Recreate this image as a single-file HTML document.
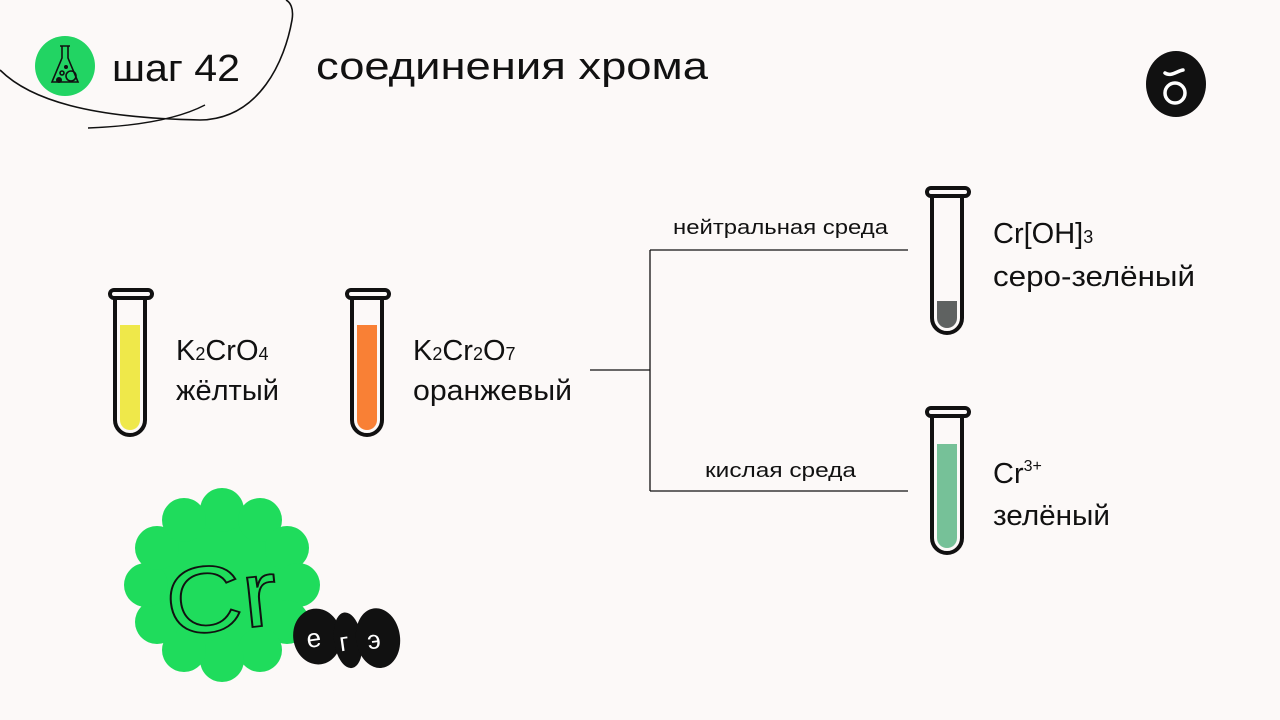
<!DOCTYPE html>
<html><head><meta charset="utf-8"><style>
html,body{margin:0;padding:0;background:#fcf9f8;}
svg{display:block}
text{font-family:"Liberation Sans","DejaVu Sans",sans-serif;fill:#111}
</style></head><body>
<svg width="1280" height="720" viewBox="0 0 1280 720" xmlns="http://www.w3.org/2000/svg">
<rect width="1280" height="720" fill="#fcf9f8"/>
<path d="M0,70 C30,100 90,118 200,120 C260,119 285,60 292,20 C294,8 290,2 286,0" fill="none" stroke="#111" stroke-width="1.6"/>
<path d="M88,128 C140,126 180,118 205,105" fill="none" stroke="#111" stroke-width="1.4"/>
<circle cx="65" cy="66" r="30" fill="#22d463"/>
<g fill="none" stroke="#111" stroke-width="1.6">
<path d="M60,46 h10 M62,46 v12 l-10,24 h26 l-10,-24 v-12"/>
<circle cx="71" cy="76" r="5"/><circle cx="62" cy="73" r="2"/>
</g>
<circle cx="59" cy="80" r="3" fill="#111"/><circle cx="66" cy="67" r="2" fill="#111"/>
<text x="112" y="81" font-size="38" textLength="128" lengthAdjust="spacingAndGlyphs">шаг 42</text>
<text x="316" y="79" font-size="38" textLength="392" lengthAdjust="spacingAndGlyphs">соединения хрома</text>
<ellipse cx="1176" cy="84" rx="30" ry="33" fill="#111"/>
<circle cx="1175" cy="93" r="10" fill="none" stroke="#fff" stroke-width="3.5"/>
<path d="M1165,73 c6,4 12,-2 18,-3" fill="none" stroke="#fff" stroke-width="3.5" stroke-linecap="round"/>
<g stroke="#111" stroke-width="4" fill="none">
<rect x="110" y="290" width="42" height="8" rx="4"/>
<path d="M115,298 V420 a15,15 0 0 0 30,0 V298"/>
<rect x="347" y="290" width="42" height="8" rx="4"/>
<path d="M352,298 V420 a15,15 0 0 0 30,0 V298"/>
<rect x="927" y="188" width="42" height="8" rx="4"/>
<path d="M932,196 V318 a15,15 0 0 0 30,0 V196"/>
<rect x="927" y="408" width="42" height="8" rx="4"/>
<path d="M932,416 V538 a15,15 0 0 0 30,0 V416"/>
</g>
<path d="M120,325 h20 V420 a10,10 0 0 1 -20,0 Z" fill="#efe84a"/>
<path d="M357,325 h20 V420 a10,10 0 0 1 -20,0 Z" fill="#f98035"/>
<path d="M937,301 h20 V318 a10,10 0 0 1 -20,0 Z" fill="#5f6261"/>
<path d="M937,444 h20 V538 a10,10 0 0 1 -20,0 Z" fill="#76c198"/>
<text x="176" y="360" font-size="29">K<tspan font-size="18">2</tspan>CrO<tspan font-size="18">4</tspan></text>
<text x="176" y="400" font-size="29" textLength="103" lengthAdjust="spacingAndGlyphs">жёлтый</text>
<text x="413" y="360" font-size="29">K<tspan font-size="18">2</tspan>Cr<tspan font-size="18">2</tspan>O<tspan font-size="18">7</tspan></text>
<text x="413" y="400" font-size="29" textLength="159" lengthAdjust="spacingAndGlyphs">оранжевый</text>
<text x="993" y="243" font-size="29">Cr[OH]<tspan font-size="18">3</tspan></text>
<text x="993" y="286" font-size="29" textLength="202" lengthAdjust="spacingAndGlyphs">серо-зелёный</text>
<text x="993" y="483" font-size="29">Cr<tspan font-size="16" dy="-12">3+</tspan></text>
<text x="993" y="525" font-size="29" textLength="117" lengthAdjust="spacingAndGlyphs">зелёный</text>
<g stroke="#111" stroke-width="1.3" fill="none">
<path d="M590,370 H650 M650,250 V491 M650,250 H908 M650,491 H908"/>
</g>
<text x="673" y="234" font-size="20" textLength="215" lengthAdjust="spacingAndGlyphs">нейтральная среда</text>
<text x="705" y="477" font-size="20" textLength="151" lengthAdjust="spacingAndGlyphs">кислая среда</text>
<g fill="#1fdc5c">
<circle cx="222" cy="585" r="82"/>
<circle cx="222" cy="510" r="22"/><circle cx="260" cy="520" r="22"/><circle cx="287" cy="548" r="22"/>
<circle cx="298" cy="585" r="22"/><circle cx="287" cy="622" r="22"/><circle cx="260" cy="650" r="22"/>
<circle cx="222" cy="660" r="22"/><circle cx="184" cy="650" r="22"/><circle cx="157" cy="622" r="22"/>
<circle cx="146" cy="585" r="22"/><circle cx="157" cy="548" r="22"/><circle cx="184" cy="520" r="22"/>
</g>
<text x="164" y="630" font-size="94" stroke="#111" stroke-width="1.8" transform="rotate(-6 222 585)" style="fill:none" textLength="112" lengthAdjust="spacingAndGlyphs">Cr</text>
<g transform="rotate(-8 350 640)">
<ellipse cx="318" cy="632" rx="24" ry="28" fill="#111"/>
<ellipse cx="348" cy="640" rx="14" ry="28" fill="#111"/>
<ellipse cx="378" cy="642" rx="22" ry="30" fill="#111"/>
<text x="307" y="642" font-size="26" style="fill:#fff">е</text>
<text x="339" y="650" font-size="26" style="fill:#fff">г</text>
<text x="367" y="652" font-size="26" style="fill:#fff">э</text>
</g>
</svg>
</body></html>
